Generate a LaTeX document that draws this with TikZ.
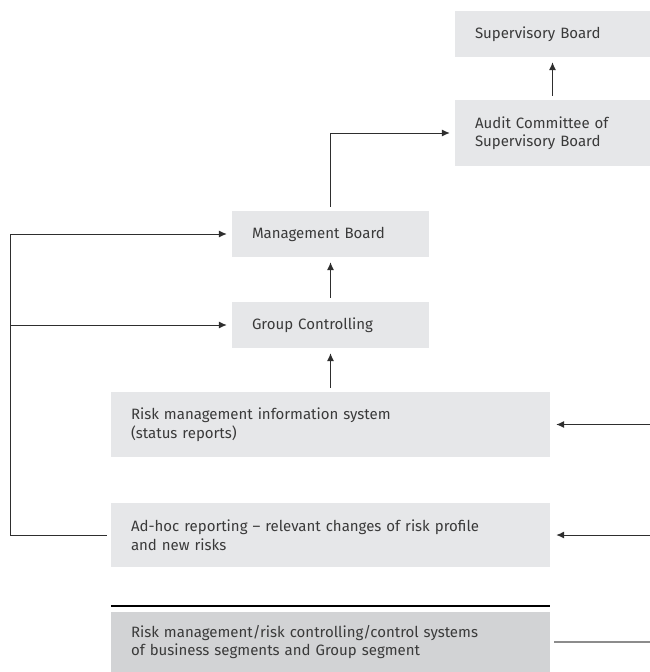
\documentclass[tikz,border=0pt]{standalone}
\usepackage{fontspec}
\setmainfont{Fira Sans}
\usetikzlibrary{arrows.meta}
\definecolor{boxgray}{HTML}{E6E7E9}
\definecolor{segray}{HTML}{D2D3D5}
\definecolor{txtgray}{HTML}{3A3A3A}
\definecolor{linegray}{HTML}{2E2E2E}
\definecolor{outgray}{HTML}{8C8C8C}

\begin{document}
\begin{tikzpicture}
	[x=1pt,y=1pt,
	box/.style={fill=boxgray,inner xsep=20pt,inner ysep=0pt,align=left,text=txtgray,
font=\fontsize{15}{18.5}\selectfont},
	segbox/.style={box,fill=segray},
	edgestyle/.style={-{Latex[length=8pt,width=7pt]},linegray,line width=1pt,
shorten <=4pt,shorten >=5pt}]
	\useasboundingbox (0,0) rectangle (650,-672);
	\node at (552.5,-34) (sb) [box,text width=155pt,minimum height=46pt] {Supervisory Board};
	\node at (552.5,-133) (ac) [box,text width=155pt,minimum height=66pt] {Audit Committee of\\Supervisory Board}
		edge [edgestyle] (sb);
	\node at (330.5,-234) (mb) [box,text width=157pt,minimum height=46pt] {Management Board};
	\node at (330.5,-325) (gc) [box,text width=157pt,minimum height=46pt] {Group Controlling}
		edge [edgestyle] (mb);
	\node at (330.5,-424.5) (rmis) [box,text width=399pt,minimum height=65pt] {Risk management information system\\(status reports)}
		edge [edgestyle] (gc);
	\node at (330.5,-535) (adhoc) [box,text width=399pt,minimum height=64pt] {Ad-hoc reporting -- relevant changes of risk profile\\and new risks};
	\node at (330.5,-642) (seg) [segbox,text width=399pt,minimum height=60pt] {Risk management/risk controlling/control systems\\of business segments and Group segment};
	% free ends at the margins
	\coordinate (lt) at (10,-234);
	\coordinate (lm) at (10,-325);
	\coordinate (rr) at (650,-424.5);
	\coordinate (ra) at (650,-535);
	\coordinate (rs) at (650,-642);
	\draw [edgestyle] (mb.north) |- (ac.west);
	\draw [edgestyle] (adhoc.west) -| (lt) -- (mb.west);
	\draw [edgestyle,shorten <=0pt] (lm) -- (gc.west);
	\draw [edgestyle,shorten <=0pt,shorten >=6pt] (rr) -- (rmis.east);
	\draw [edgestyle,shorten <=0pt,shorten >=6pt] (ra) -- (adhoc.east);
	\draw [line width=2pt,black] ([yshift=6pt]seg.north west) -- ([yshift=6pt]seg.north east);
	\draw [outgray,line width=1.3pt] ([xshift=4pt]seg.east) -- (rs);
\end{tikzpicture}
\end{document}
